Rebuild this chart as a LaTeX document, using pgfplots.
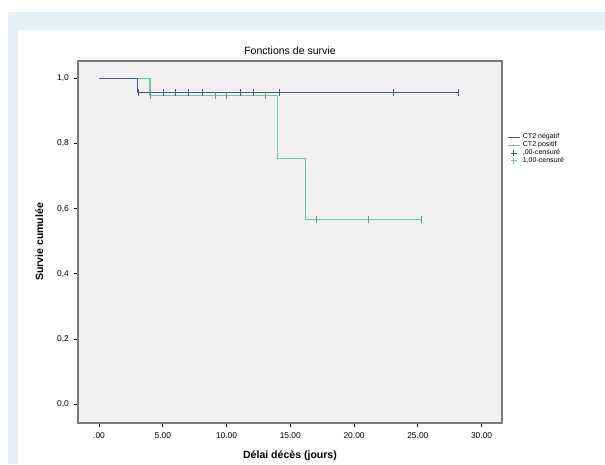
\documentclass[border=0pt]{standalone}
\usepackage{pgfplots}
\pgfplotsset{compat=1.18}
\usepackage{fontspec}
\setmainfont{Liberation Sans}
\definecolor{pagebg}{HTML}{E6EEF6}
\definecolor{plotbg}{HTML}{F0F0F0}
\definecolor{negcol}{HTML}{4A5890}
\definecolor{poscol}{HTML}{72C896}
\definecolor{framecol}{HTML}{7A7A7A}

\begin{document}
\begin{tikzpicture}
% page background, 605 x 464 px at 0.025cm per px
\useasboundingbox (0,0) rectangle (15.125cm,11.6cm);
\fill[white] (0,0) rectangle (15.125cm,11.6cm);
\fill[pagebg] (0.2cm,0) rectangle (15.125cm,11.3cm);
\fill[white] (0.45cm,0) rectangle (15.125cm,10.85cm);

\begin{axis}[
  at={(1.95cm,1.025cm)}, anchor=south west,
  scale only axis, width=10.6cm, height=9.05cm,
  xmin=-1.65, xmax=31.6, ymin=-0.058, ymax=1.053,
  axis background/.style={fill=plotbg},
  axis line style={framecol, line width=0.8pt},
  tick align=outside, tick pos=left,
  major tick length=3pt,
  tick style={black, line width=0.5pt},
  xtick={0,5,10,15,20,25,30},
  xticklabels={.00,5.00,10.00,15.00,20.00,25.00,30.00},
  ytick={0,0.2,0.4,0.6,0.8,1.0},
  yticklabel style={/pgf/number format/.cd, fixed, fixed zerofill, precision=1, use comma},
  /pgf/number format/assume math mode=true,
  ticklabel style={font=\fontsize{6}{7}\selectfont},
  title={Fonctions de survie},
  title style={font=\fontsize{7.5}{9}\selectfont, yshift=-5pt},
  xlabel={Délai décès (jours)},
  ylabel={Survie cumulée},
  label style={font=\bfseries\fontsize{7.5}{9}\selectfont},
  xlabel style={yshift=-2pt},
  ylabel style={yshift=3pt},
  legend style={at={(1.01,0.81)}, anchor=north west, draw=none, fill=none,
    font=\fontsize{5}{5.5}\selectfont, row sep=-3.6pt, inner sep=0.5pt},
  legend cell align=left,
  legend image code/.code={\draw[mark repeat=2, mark phase=2, #1]
    plot coordinates {(0cm,0cm) (0.15cm,0cm) (0.3cm,0cm)};},
]
\addlegendimage{negcol, line width=0.6pt, sharp plot}
\addlegendentry{CT2 négatif}
\addlegendimage{poscol, line width=0.6pt, sharp plot}
\addlegendentry{CT2 positif}
\addlegendimage{only marks, mark=+, negcol, mark size=2.2pt}
\addlegendentry{,00-censuré}
\addlegendimage{only marks, mark=+, poscol, mark size=2.2pt}
\addlegendentry{1,00-censuré}

% CT2 positif
\addplot[poscol, line width=0.8pt, const plot, forget plot] coordinates {
  (0,1) (4,0.948) (14,0.754) (16.2,0.566) (25.3,0.566)};
\addplot[only marks, mark=|, mark size=2.5pt, poscol!80!black, forget plot] coordinates {
  (4.0,0.948) (9.1,0.948) (10.0,0.948) (13.0,0.948)
  (17.0,0.566) (21.1,0.566) (25.3,0.566)};
% CT2 negatif
\addplot[negcol, line width=0.8pt, const plot, forget plot] coordinates {
  (0,1) (3,0.957) (28.2,0.957)};
\addplot[only marks, mark=|, mark size=2.5pt, negcol, forget plot] coordinates {
  (3.1,0.957) (5.0,0.957) (6.0,0.957) (7.0,0.957) (8.1,0.957)
  (11.1,0.957) (12.1,0.957) (14.1,0.957) (23.1,0.957) (28.2,0.957)};
\end{axis}
\end{tikzpicture}
\end{document}
